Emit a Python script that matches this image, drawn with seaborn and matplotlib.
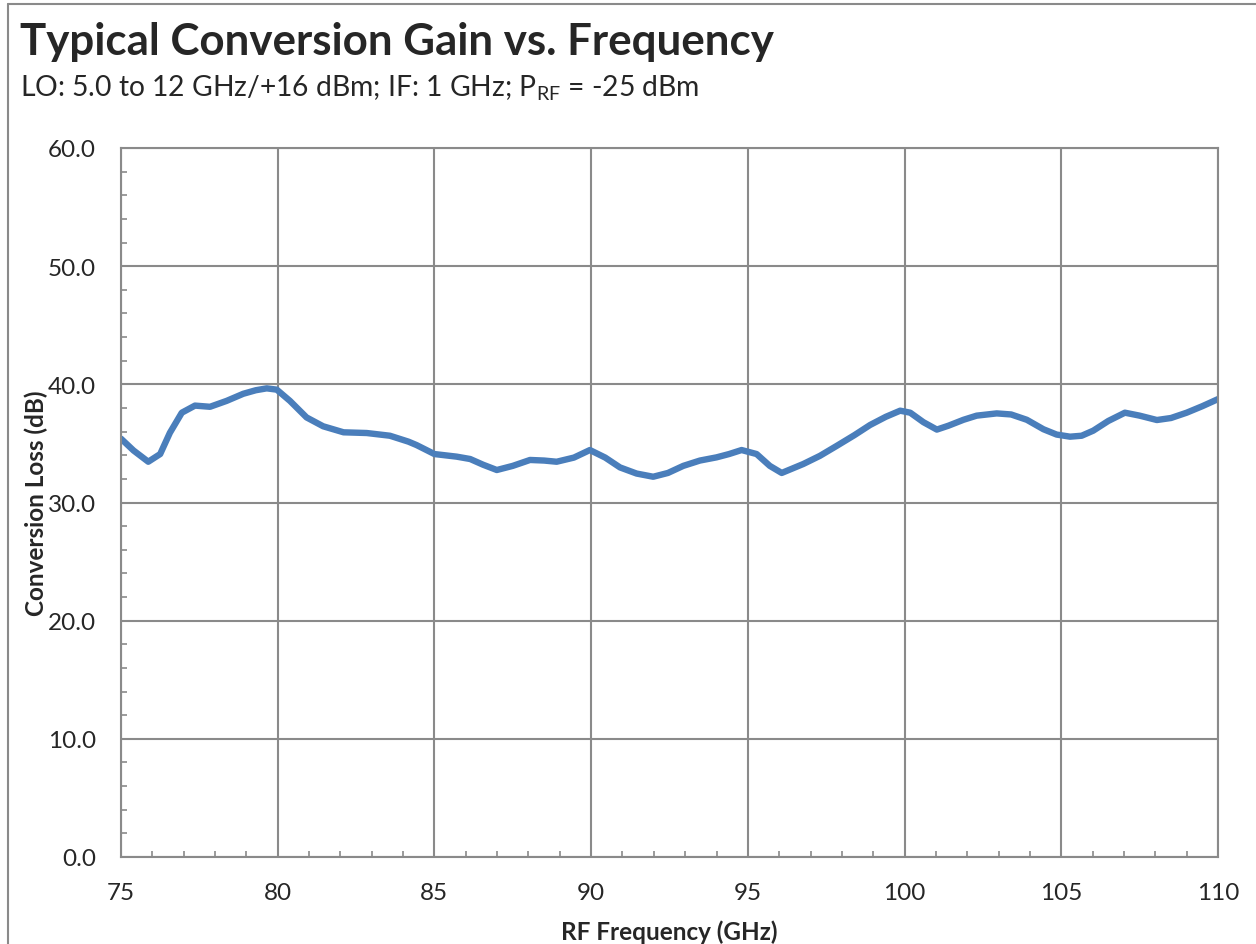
import pandas as pd
import matplotlib
matplotlib.use("Agg")
import matplotlib.pyplot as plt
import seaborn as sns
from matplotlib.ticker import MultipleLocator, FormatStrFormatter

# RF frequency (GHz) and conversion loss (dB)
freq = [75.0, 75.4, 75.87, 76.25, 76.56, 76.94, 77.36, 77.84, 78.37, 78.9, 79.3, 79.65, 79.97,
        80.39, 80.92, 81.45, 82.1, 82.84, 83.58, 84.17, 84.43, 85.0, 85.71, 86.14, 86.55,
        86.99, 87.5, 88.05, 88.5, 88.9, 89.45, 89.96, 90.45, 90.92, 91.45, 91.98, 92.45,
        92.94, 93.47, 94.0, 94.4, 94.8, 95.28, 95.7, 96.08, 96.77, 97.3, 97.84, 98.4, 98.9,
        99.4, 99.86, 100.18, 100.6, 101.03, 101.4, 101.88, 102.3, 102.94, 103.4, 103.9,
        104.43, 104.85, 105.28, 105.65, 106.02, 106.5, 107.03, 107.5, 108.05, 108.5, 109.0,
        109.5, 110.0]
loss = [35.4, 34.4, 33.45, 34.1, 35.9, 37.6, 38.2, 38.1, 38.6, 39.2, 39.5, 39.66, 39.55,
        38.6, 37.2, 36.45, 35.94, 35.88, 35.65, 35.15, 34.86, 34.1, 33.88, 33.68, 33.2,
        32.75, 33.1, 33.6, 33.55, 33.45, 33.8, 34.44, 33.8, 32.97, 32.45, 32.18, 32.5,
        33.1, 33.55, 33.82, 34.1, 34.44, 34.1, 33.1, 32.5, 33.26, 33.95, 34.8, 35.7, 36.56,
        37.25, 37.77, 37.6, 36.8, 36.17, 36.5, 37.0, 37.35, 37.54, 37.45, 37.0, 36.2, 35.75,
        35.57, 35.65, 36.08, 36.9, 37.6, 37.35, 36.98, 37.15, 37.6, 38.15, 38.75]

df = pd.DataFrame({"freq": freq, "loss": loss})

sns.set_style("white")
plt.rcParams["font.family"] = ["Lato", "DejaVu Sans"]
plt.rcParams["mathtext.fontset"] = "custom"
plt.rcParams["mathtext.rm"] = "Lato"

fig = plt.figure(figsize=(12.56, 9.45), dpi=100)
ax = fig.add_axes([121 / 1256, 1 - 858 / 945, (1218 - 121) / 1256, (858 - 149) / 945])

sns.lineplot(data=df, x="freq", y="loss", ax=ax, color="#4a7ebb", linewidth=4.6)

grey = "#8a8a8a"
ax.xaxis.set_major_locator(MultipleLocator(5))
ax.xaxis.set_minor_locator(MultipleLocator(1))
ax.yaxis.set_major_locator(MultipleLocator(10))
ax.yaxis.set_minor_locator(MultipleLocator(2))
ax.yaxis.set_major_formatter(FormatStrFormatter("%.1f"))
ax.set_xlim(75, 110)
ax.set_ylim(0, 60)
ax.grid(True, which="major", color=grey, linewidth=1.5)
ax.tick_params(which="both", direction="in", color=grey, labelsize=17.5,
               bottom=True, left=True)
ax.tick_params(which="major", length=0)
ax.tick_params(which="minor", length=4.5, width=1.2)
ax.tick_params(axis="y", which="major", pad=18)
ax.tick_params(axis="x", which="major", pad=18)
for s in ax.spines.values():
    s.set_color(grey)
    s.set_linewidth(1.5)

ax.set_xlabel("RF Frequency (GHz)", fontsize=17.5, fontweight="bold", labelpad=12)
ax.set_ylabel("Conversion Loss (dB)", fontsize=17.5, fontweight="bold", labelpad=0)

fig.text(20 / 1256, 1 - 42 / 945, "Typical Conversion Gain vs. Frequency",
         fontsize=31.6, fontweight="bold", va="center")
fig.text(20 / 1256, 1 - 88 / 945,
         "LO: 5.0 to 12 GHz/+16 dBm; IF: 1 GHz; P$_{\\mathrm{RF}}$ = -25 dBm",
         fontsize=20.3, va="center")

# outer chart frame (left and top edges visible)
fig.add_artist(plt.Line2D([8 / 1256, 8 / 1256], [0, 1 - 5 / 945], color=grey,
                          linewidth=1.5, transform=fig.transFigure))
fig.add_artist(plt.Line2D([8 / 1256, 1], [1 - 5 / 945, 1 - 5 / 945], color=grey,
                          linewidth=1.5, transform=fig.transFigure))

fig.savefig("out.png", dpi=100)
